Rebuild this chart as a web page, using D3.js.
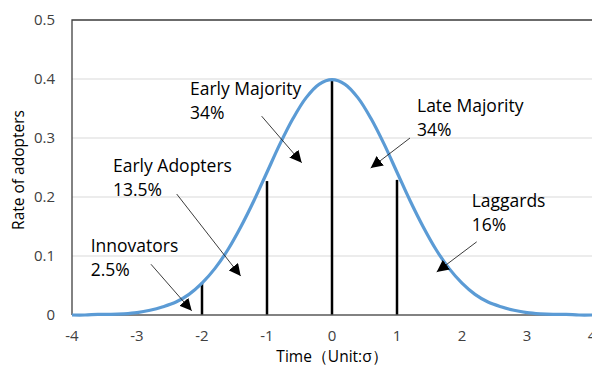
<!DOCTYPE html>
<html>
<head>
<meta charset="utf-8">
<script src="https://cdn.jsdelivr.net/npm/d3@7"></script>
<style>
  html, body { margin: 0; padding: 0; background: #fff; }
  text { font-family: "Open Sans", "DejaVu Sans", sans-serif; }
</style>
</head>
<body>
<div id="chart"></div>
<script>
// values
var timeSteps = [-4, -3.8, -3.6, -3.4, -3.2, -3, -2.8, -2.6, -2.4, -2.2, -2, -1.8, -1.6, -1.4, -1.2, -1, -0.8, -0.6, -0.4, -0.2,
                 0, 0.2, 0.4, 0.6, 0.8, 1, 1.2, 1.4, 1.6, 1.8, 2, 2.2, 2.4, 2.6, 2.8, 3, 3.2, 3.4, 3.6, 3.8, 4];
var adoptRate = [0.000, 0.000, 0.001, 0.001, 0.002, 0.004, 0.008, 0.014, 0.022, 0.035, 0.054, 0.079, 0.111, 0.150, 0.194, 0.242, 0.290, 0.333, 0.368, 0.391,
                 0.399, 0.391, 0.368, 0.333, 0.290, 0.242, 0.194, 0.150, 0.111, 0.079, 0.054, 0.035, 0.022, 0.014, 0.008, 0.004, 0.002, 0.001, 0.001, 0.000, 0.000];

// dividing lines
var dividerX = [-2, -1, 0, 1];
var dividerY = [0.055, 0.227, 0.400, 0.229];

var xTicks = [-4, -3, -2, -1, 0, 1, 2, 3, 4];
var yTicks = [0, 0.1, 0.2, 0.3, 0.4, 0.5];

// annotation text + arrows, in data units
var groupNames = ['Innovators', 'Early Adopters', 'Early Majority', 'Late Majority', 'Laggards'];
var groupShares = ['2.5%', '13.5%', '34%', '34%', '16%'];
var labelPos = [[-3.712, 0.107], [-3.369, 0.242], [-2.185, 0.373], [1.308, 0.344], [2.149, 0.183]];
var arrowFrom = [[-2.785, 0.086], [-2.389, 0.205], [-1.082, 0.337], [1.200, 0.300], [2.226, 0.124]];
var arrowTo = [[-2.158, 0.007], [-1.405, 0.066], [-0.466, 0.258], [0.595, 0.249], [1.611, 0.073]];

var width = 592, height = 367;
var margin = { top: 20, right: 0, bottom: 52, left: 72 };

var svg = d3.select('#chart').append('svg')
    .attr('width', width)
    .attr('height', height);

var x = d3.scaleLinear().domain([-4, 4]).range([margin.left, width - margin.right]);
var y = d3.scaleLinear().domain([0, 0.5]).range([height - margin.bottom, margin.top]);

// gridlines
svg.append('g')
    .selectAll('line')
    .data(yTicks.slice(1))
    .enter().append('line')
    .attr('x1', x(-4)).attr('x2', x(4))
    .attr('y1', function (d) { return y(d); })
    .attr('y2', function (d) { return y(d); })
    .attr('stroke', '#d9d9d9')
    .attr('stroke-width', 1);

// plot border (top + left)
svg.append('path')
    .attr('d', 'M' + x(4) + ',' + y(0.5) + 'H' + x(-4) + 'V' + y(0))
    .attr('fill', 'none')
    .attr('stroke', '#404040')
    .attr('stroke-width', 1.3);

// y tick labels
svg.append('g')
    .selectAll('text')
    .data(yTicks)
    .enter().append('text')
    .attr('x', 55)
    .attr('y', function (d) { return y(d) + 5; })
    .attr('text-anchor', 'end')
    .attr('font-size', 15)
    .attr('fill', '#404040')
    .text(function (d) { return d === 0 ? '0' : d3.format('.1f')(d); });

// x tick labels
svg.append('g')
    .selectAll('text')
    .data(xTicks)
    .enter().append('text')
    .attr('x', function (d) { return x(d); })
    .attr('y', 341)
    .attr('text-anchor', 'middle')
    .attr('font-size', 15)
    .attr('fill', '#404040')
    .text(function (d) { return d; });

// axis titles
svg.append('text')
    .attr('transform', 'translate(24,170) rotate(-90)')
    .attr('text-anchor', 'middle')
    .attr('font-size', 15.5)
    .attr('fill', '#000')
    .text('Rate of adopters');

svg.append('text')
    .attr('x', 332)
    .attr('y', 362)
    .attr('text-anchor', 'middle')
    .attr('font-size', 15.5)
    .attr('fill', '#000')
    .text('Time（Unit:σ）');

// dividing lines
svg.append('g')
    .selectAll('line')
    .data(dividerX)
    .enter().append('line')
    .attr('x1', function (d) { return x(d); })
    .attr('x2', function (d) { return x(d); })
    .attr('y1', y(0))
    .attr('y2', function (d, i) { return y(dividerY[i]); })
    .attr('stroke', '#000')
    .attr('stroke-width', 2.5);

// x axis line
svg.append('line')
    .attr('x1', x(-4)).attr('x2', x(4))
    .attr('y1', y(0)).attr('y2', y(0))
    .attr('stroke', '#595959')
    .attr('stroke-width', 1.3);

// the curve
var line = d3.line()
    .x(function (d, i) { return x(timeSteps[i]); })
    .y(function (d) { return y(d); })
    .curve(d3.curveCatmullRom);

svg.append('path')
    .datum(adoptRate)
    .attr('d', line)
    .attr('fill', 'none')
    .attr('stroke', '#5b9bd5')
    .attr('stroke-width', 3.2);

// arrowhead
svg.append('defs').append('marker')
    .attr('id', 'arrowhead')
    .attr('viewBox', '0 0 10 10')
    .attr('refX', 10).attr('refY', 5)
    .attr('markerWidth', 12).attr('markerHeight', 12)
    .attr('markerUnits', 'userSpaceOnUse')
    .attr('orient', 'auto')
    .append('path')
    .attr('d', 'M0,0L10,5L0,10z')
    .attr('fill', '#000');

svg.append('g')
    .selectAll('line')
    .data(arrowFrom)
    .enter().append('line')
    .attr('x1', function (d) { return x(d[0]); })
    .attr('y1', function (d) { return y(d[1]); })
    .attr('x2', function (d, i) { return x(arrowTo[i][0]); })
    .attr('y2', function (d, i) { return y(arrowTo[i][1]); })
    .attr('stroke', '#262626')
    .attr('stroke-width', 0.9)
    .attr('marker-end', 'url(#arrowhead)');

// labels
var labels = svg.append('g')
    .selectAll('text')
    .data(groupNames)
    .enter().append('text')
    .attr('font-size', 17.5)
    .attr('fill', '#000')
    .attr('x', function (d, i) { return x(labelPos[i][0]); })
    .attr('y', function (d, i) { return y(labelPos[i][1]); });

labels.append('tspan')
    .text(function (d) { return d; });
labels.append('tspan')
    .attr('x', function (d, i) { return x(labelPos[i][0]); })
    .attr('dy', 24)
    .text(function (d, i) { return groupShares[i]; });
</script>
</body>
</html>
